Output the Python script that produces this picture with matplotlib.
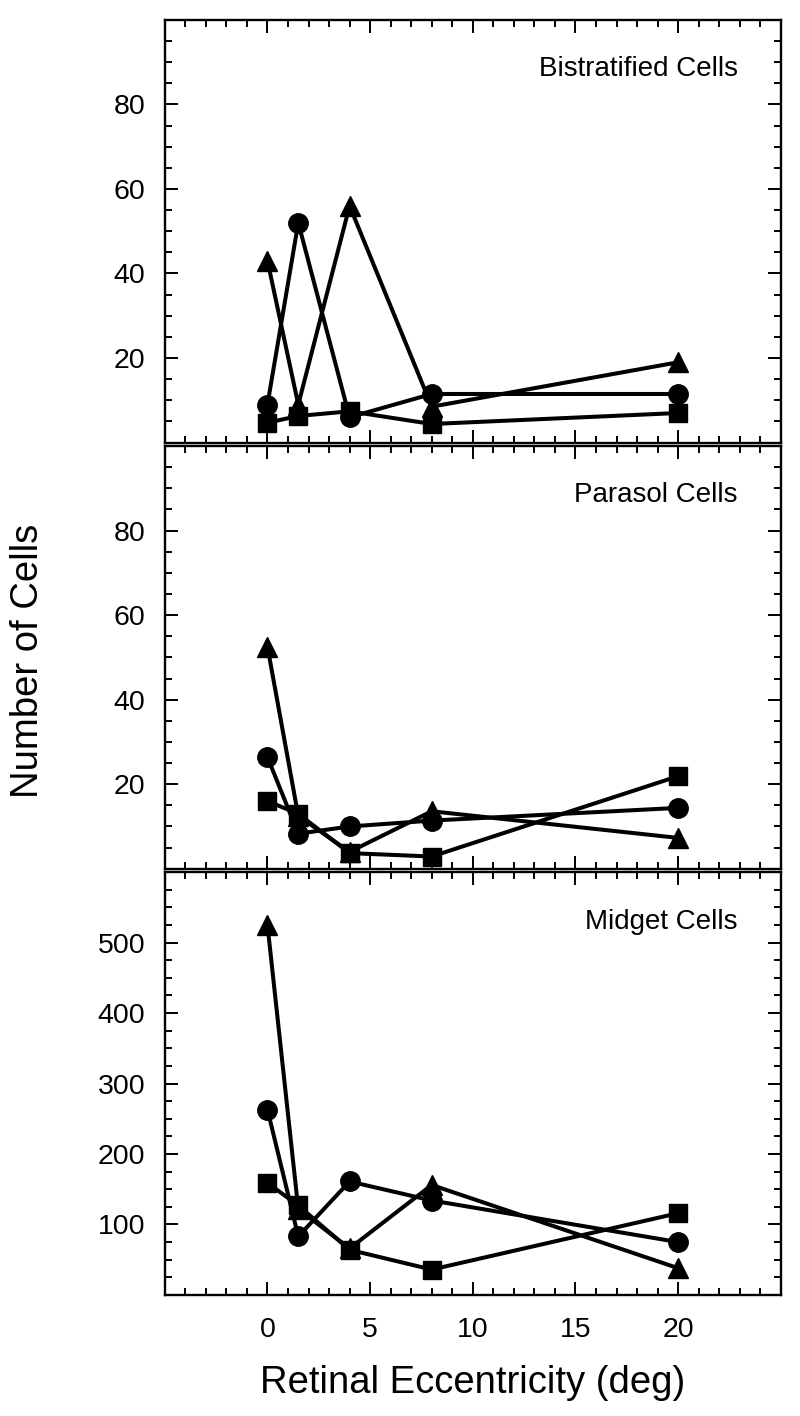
# Number of cells vs retinal eccentricity for bistratified, parasol and midget cells
import numpy as np
import matplotlib
matplotlib.use('Agg')
import matplotlib.pyplot as plt
from matplotlib.ticker import MultipleLocator

plt.rcParams['font.family'] = ['Liberation Sans', 'DejaVu Sans']

ecc = [0, 1.5, 4, 8, 20]

# bistratified
bis_tri = [43, 9, 56, 8.5, 19]
bis_circ = [9, 52, 6, 11.5, 11.5]
bis_sq = [4.7, 6.3, 7.4, 4.4, 7]

# parasol
par_tri = [52.5, 12.5, 4, 13.6, 7.3]
par_circ = [26.4, 8.3, 10, 11.4, 14.4]
par_sq = [16, 13, 3.7, 2.9, 21.9]

# midget
mid_tri = [525, 122, 66, 156, 38]
mid_circ = [263, 83, 161, 134, 75]
mid_sq = [159, 127, 64, 36, 116]

panels = [
    ('Bistratified Cells', bis_tri, bis_circ, bis_sq, (0, 100), [20, 40, 60, 80], 5),
    ('Parasol Cells', par_tri, par_circ, par_sq, (0, 100), [20, 40, 60, 80], 5),
    ('Midget Cells', mid_tri, mid_circ, mid_sq, (0, 600), [100, 200, 300, 400, 500], 25),
]

fig, axes = plt.subplots(3, 1, figsize=(8, 14.16), dpi=100, sharex=True)
fig.subplots_adjust(left=0.206, right=0.976, top=0.986, bottom=0.0855, hspace=0.008)

for ax, (name, tri, circ, sq, ylim, yticks, yminor) in zip(axes, panels):
    kw = dict(color='black', linewidth=2.9, clip_on=False)
    ax.plot(ecc, tri, marker='^', markersize=14, **kw)
    ax.plot(ecc, circ, marker='o', markersize=14, **kw)
    ax.plot(ecc, sq, marker='s', markersize=13.5, **kw)

    ax.set_xlim(-5, 25)
    ax.set_ylim(*ylim)
    ax.set_yticks(yticks)
    ax.yaxis.set_minor_locator(MultipleLocator(yminor))
    ax.xaxis.set_major_locator(MultipleLocator(5))
    ax.xaxis.set_minor_locator(MultipleLocator(1))

    ax.tick_params(which='both', direction='in', top=True, right=True, width=1.4)
    ax.tick_params(which='major', length=9.5, labelsize=20.5)
    ax.tick_params(axis='y', which='major', pad=14)
    ax.tick_params(which='minor', length=5)
    for sp in ax.spines.values():
        sp.set_linewidth(1.7)

    ax.text(0.93, 0.883, name, transform=ax.transAxes, ha='right', va='center', fontsize=20)

axes[2].set_xticks([0, 5, 10, 15, 20])
axes[2].tick_params(axis='x', pad=16)
axes[2].set_xlabel('Retinal Eccentricity (deg)', fontsize=27.5, labelpad=16)
fig.text(0.035, 0.533, 'Number of Cells', rotation=90, ha='center', va='center', fontsize=27.5)

plt.savefig('out.png', dpi=100)
